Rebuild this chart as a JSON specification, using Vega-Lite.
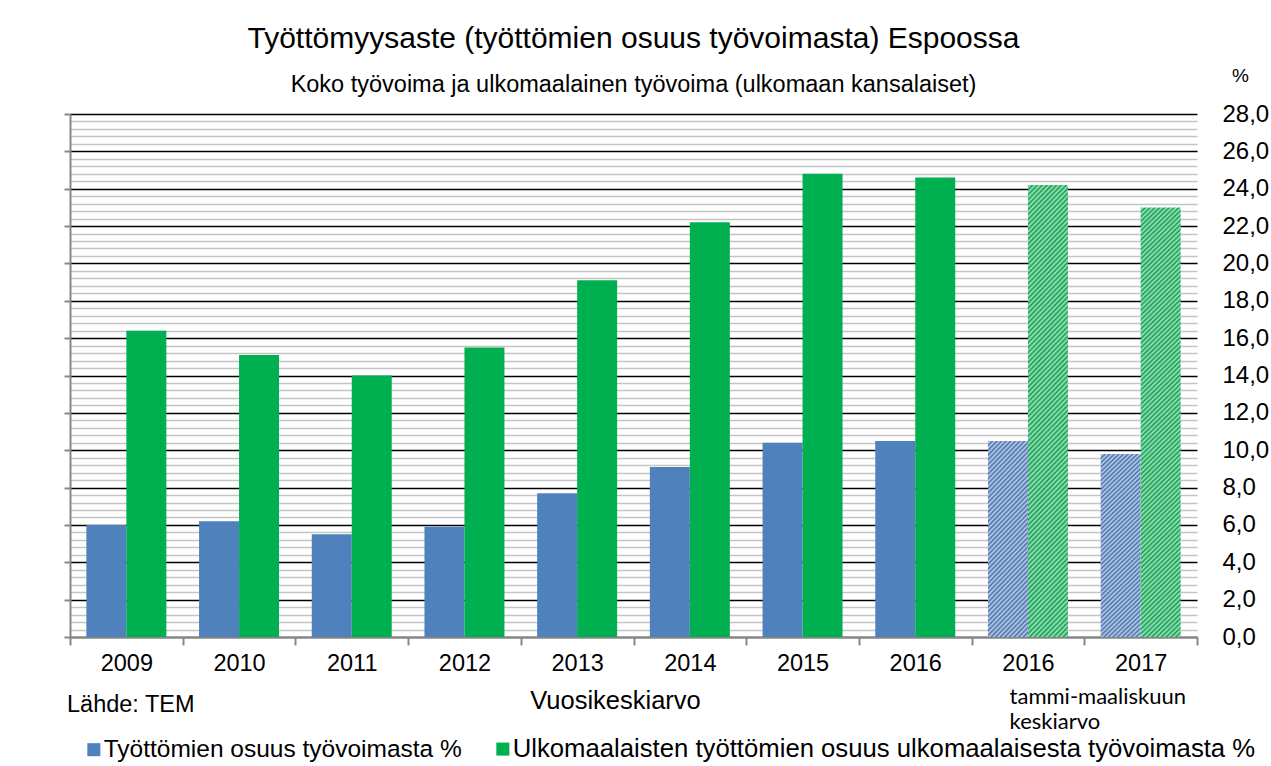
{
  "$schema": "https://vega.github.io/schema/vega-lite/v6.json",
  "width": 1127,
  "height": 523,
  "autosize": {"type": "none"},
  "padding": {"left": 70, "top": 114, "right": 74, "bottom": 129},
  "background": "white",
  "title": {
    "text": "Työttömyysaste (työttömien osuus työvoimasta) Espoossa",
    "subtitle": "Koko työvoima ja ulkomaalainen työvoima (ulkomaan kansalaiset)"
  },
  "datasets": {
    "bars": [
      {"cat": "2009", "kind": "vuosi", "series": "Työttömien osuus työvoimasta %", "value": 6.0},
      {"cat": "2009", "kind": "vuosi", "series": "Ulkomaalaisten työttömien osuus ulkomaalaisesta työvoimasta %", "value": 16.4},
      {"cat": "2010", "kind": "vuosi", "series": "Työttömien osuus työvoimasta %", "value": 6.2},
      {"cat": "2010", "kind": "vuosi", "series": "Ulkomaalaisten työttömien osuus ulkomaalaisesta työvoimasta %", "value": 15.1},
      {"cat": "2011", "kind": "vuosi", "series": "Työttömien osuus työvoimasta %", "value": 5.5},
      {"cat": "2011", "kind": "vuosi", "series": "Ulkomaalaisten työttömien osuus ulkomaalaisesta työvoimasta %", "value": 14.0},
      {"cat": "2012", "kind": "vuosi", "series": "Työttömien osuus työvoimasta %", "value": 5.9},
      {"cat": "2012", "kind": "vuosi", "series": "Ulkomaalaisten työttömien osuus ulkomaalaisesta työvoimasta %", "value": 15.5},
      {"cat": "2013", "kind": "vuosi", "series": "Työttömien osuus työvoimasta %", "value": 7.7},
      {"cat": "2013", "kind": "vuosi", "series": "Ulkomaalaisten työttömien osuus ulkomaalaisesta työvoimasta %", "value": 19.1},
      {"cat": "2014", "kind": "vuosi", "series": "Työttömien osuus työvoimasta %", "value": 9.1},
      {"cat": "2014", "kind": "vuosi", "series": "Ulkomaalaisten työttömien osuus ulkomaalaisesta työvoimasta %", "value": 22.2},
      {"cat": "2015", "kind": "vuosi", "series": "Työttömien osuus työvoimasta %", "value": 10.4},
      {"cat": "2015", "kind": "vuosi", "series": "Ulkomaalaisten työttömien osuus ulkomaalaisesta työvoimasta %", "value": 24.8},
      {"cat": "2016", "kind": "vuosi", "series": "Työttömien osuus työvoimasta %", "value": 10.5},
      {"cat": "2016", "kind": "vuosi", "series": "Ulkomaalaisten työttömien osuus ulkomaalaisesta työvoimasta %", "value": 24.6},
      {"cat": "2016q", "kind": "q", "series": "Työttömien osuus työvoimasta %", "value": 10.5},
      {"cat": "2016q", "kind": "q", "series": "Ulkomaalaisten työttömien osuus ulkomaalaisesta työvoimasta %", "value": 24.2},
      {"cat": "2017q", "kind": "q", "series": "Työttömien osuus työvoimasta %", "value": 9.8},
      {"cat": "2017q", "kind": "q", "series": "Ulkomaalaisten työttömien osuus ulkomaalaisesta työvoimasta %", "value": 23.0}
    ]
  },
  "layer": [
    {
      "data": {"name": "bars"},
      "transform": [{"filter": "datum.kind === 'vuosi'"}],
      "mark": {"type": "bar"},
      "encoding": {
        "x": {
          "field": "cat", "type": "nominal", "sort": null,
          "scale": {"domain": ["2009","2010","2011","2012","2013","2014","2015","2016","2016q","2017q"], "paddingInner": 0, "paddingOuter": 0},
          "axis": {
            "title": "Vuosikeskiarvo",
            "labelExpr": "isValid(datum.value) ? replace(datum.value, 'q', '') : ''",
            "labelAngle": 0, "labelOverlap": false,
            "labelFont": "Liberation Sans", "labelFontSize": 23.5, "labelColor": "#000000", "labelPadding": 6,
            "tickBand": "extent", "tickSize": 8, "tickWidth": 2, "tickColor": "#878787",
            "domainColor": "#878787", "domainWidth": 2, "grid": false,
            "titleFont": "Liberation Sans", "titleFontSize": 25.5, "titleFontWeight": "normal", "titleColor": "#000000",
            "titleX": 545, "titleY": 63, "titleAlign": "center", "titleBaseline": "middle"
          }
        },
        "xOffset": {
          "field": "series", "type": "nominal",
          "scale": {"domain": ["Työttömien osuus työvoimasta %", "Ulkomaalaisten työttömien osuus ulkomaalaisesta työvoimasta %"], "paddingInner": 0, "paddingOuter": 0.409}
        },
        "y": {
          "field": "value", "type": "quantitative",
          "scale": {"domain": [0, 28], "nice": false},
          "axis": {
            "orient": "left", "title": null, "labels": false,
            "values": [0,0.4,0.8,1.2,1.6,2,2.4,2.8,3.2,3.6,4,4.4,4.8,5.2,5.6,6,6.4,6.8,7.2,7.6,8,8.4,8.8,9.2,9.6,10,10.4,10.8,11.2,11.6,12,12.4,12.8,13.2,13.6,14,14.4,14.8,15.2,15.6,16,16.4,16.8,17.2,17.6,18,18.4,18.8,19.2,19.6,20,20.4,20.8,21.2,21.6,22,22.4,22.8,23.2,23.6,24,24.4,24.8,25.2,25.6,26,26.4,26.8,27.2,27.6,28],
            "domain": true, "domainColor": "#878787", "domainWidth": 2,
            "ticks": true, "tickSize": 6, "tickWidth": 2, "tickColor": "#878787",
            "tickOpacity": {"condition": {"test": "round(datum.value*10) % 20 === 0", "value": 1}, "value": 0},
            "grid": true,
            "gridColor": {"condition": {"test": "round(datum.value*10) % 20 === 0", "value": "#000000"}, "value": "#c4c4c4"},
            "gridWidth": {"condition": {"test": "round(datum.value*10) % 20 === 0", "value": 1.6}, "value": 1.4}
          }
        },
        "color": {
          "field": "series", "type": "nominal",
          "scale": {"domain": ["Työttömien osuus työvoimasta %", "Ulkomaalaisten työttömien osuus ulkomaalaisesta työvoimasta %"], "range": ["#4f81bd", "#00b050"]},
          "legend": {
            "orient": "none", "legendX": 11, "legendY": 622, "direction": "horizontal", "title": null,
            "symbolType": "square", "symbolSize": 170, "symbolStrokeWidth": 0, "symbolOpacity": 1,
            "labelFont": "Liberation Sans", "labelFontSize": 24.5, "labelColor": "#000000", "labelLimit": 1000,
            "columnPadding": 28, "labelOffset": -3, "padding": 0,
            "encode": {"labels": {"update": {"fontSize": {"signal": "datum.value === 'Työttömien osuus työvoimasta %' ? 24.5 : 25.7"}}}}
          }
        }
      }
    },
    {
      "data": {"name": "bars"},
      "transform": [{"filter": "datum.kind === 'q' && datum.series === 'Työttömien osuus työvoimasta %'"}],
      "mark": {
        "type": "bar",
        "fill": {
          "gradient": "linear", "x1": 0, "y1": 0, "x2": 0.244, "y2": 1.159,
          "stops": [{"offset":0,"color":"#4a6fab"},{"offset":0.01,"color":"#bcd1ea"},{"offset":0.02,"color":"#4a6fab"},{"offset":0.03,"color":"#bcd1ea"},{"offset":0.04,"color":"#4a6fab"},{"offset":0.05,"color":"#bcd1ea"},{"offset":0.06,"color":"#4a6fab"},{"offset":0.07,"color":"#bcd1ea"},{"offset":0.08,"color":"#4a6fab"},{"offset":0.09,"color":"#bcd1ea"},{"offset":0.1,"color":"#4a6fab"},{"offset":0.11,"color":"#bcd1ea"},{"offset":0.12,"color":"#4a6fab"},{"offset":0.13,"color":"#bcd1ea"},{"offset":0.14,"color":"#4a6fab"},{"offset":0.15,"color":"#bcd1ea"},{"offset":0.16,"color":"#4a6fab"},{"offset":0.17,"color":"#bcd1ea"},{"offset":0.18,"color":"#4a6fab"},{"offset":0.19,"color":"#bcd1ea"},{"offset":0.2,"color":"#4a6fab"},{"offset":0.21,"color":"#bcd1ea"},{"offset":0.22,"color":"#4a6fab"},{"offset":0.23,"color":"#bcd1ea"},{"offset":0.24,"color":"#4a6fab"},{"offset":0.25,"color":"#bcd1ea"},{"offset":0.26,"color":"#4a6fab"},{"offset":0.27,"color":"#bcd1ea"},{"offset":0.28,"color":"#4a6fab"},{"offset":0.29,"color":"#bcd1ea"},{"offset":0.3,"color":"#4a6fab"},{"offset":0.31,"color":"#bcd1ea"},{"offset":0.32,"color":"#4a6fab"},{"offset":0.33,"color":"#bcd1ea"},{"offset":0.34,"color":"#4a6fab"},{"offset":0.35,"color":"#bcd1ea"},{"offset":0.36,"color":"#4a6fab"},{"offset":0.37,"color":"#bcd1ea"},{"offset":0.38,"color":"#4a6fab"},{"offset":0.39,"color":"#bcd1ea"},{"offset":0.4,"color":"#4a6fab"},{"offset":0.41,"color":"#bcd1ea"},{"offset":0.42,"color":"#4a6fab"},{"offset":0.43,"color":"#bcd1ea"},{"offset":0.44,"color":"#4a6fab"},{"offset":0.45,"color":"#bcd1ea"},{"offset":0.46,"color":"#4a6fab"},{"offset":0.47,"color":"#bcd1ea"},{"offset":0.48,"color":"#4a6fab"},{"offset":0.49,"color":"#bcd1ea"},{"offset":0.5,"color":"#4a6fab"},{"offset":0.51,"color":"#bcd1ea"},{"offset":0.52,"color":"#4a6fab"},{"offset":0.53,"color":"#bcd1ea"},{"offset":0.54,"color":"#4a6fab"},{"offset":0.55,"color":"#bcd1ea"},{"offset":0.56,"color":"#4a6fab"},{"offset":0.57,"color":"#bcd1ea"},{"offset":0.58,"color":"#4a6fab"},{"offset":0.59,"color":"#bcd1ea"},{"offset":0.6,"color":"#4a6fab"},{"offset":0.61,"color":"#bcd1ea"},{"offset":0.62,"color":"#4a6fab"},{"offset":0.63,"color":"#bcd1ea"},{"offset":0.64,"color":"#4a6fab"},{"offset":0.65,"color":"#bcd1ea"},{"offset":0.66,"color":"#4a6fab"},{"offset":0.67,"color":"#bcd1ea"},{"offset":0.68,"color":"#4a6fab"},{"offset":0.69,"color":"#bcd1ea"},{"offset":0.7,"color":"#4a6fab"},{"offset":0.71,"color":"#bcd1ea"},{"offset":0.72,"color":"#4a6fab"},{"offset":0.73,"color":"#bcd1ea"},{"offset":0.74,"color":"#4a6fab"},{"offset":0.75,"color":"#bcd1ea"},{"offset":0.76,"color":"#4a6fab"},{"offset":0.77,"color":"#bcd1ea"},{"offset":0.78,"color":"#4a6fab"},{"offset":0.79,"color":"#bcd1ea"},{"offset":0.8,"color":"#4a6fab"},{"offset":0.81,"color":"#bcd1ea"},{"offset":0.82,"color":"#4a6fab"},{"offset":0.83,"color":"#bcd1ea"},{"offset":0.84,"color":"#4a6fab"},{"offset":0.85,"color":"#bcd1ea"},{"offset":0.86,"color":"#4a6fab"},{"offset":0.87,"color":"#bcd1ea"},{"offset":0.88,"color":"#4a6fab"},{"offset":0.89,"color":"#bcd1ea"},{"offset":0.9,"color":"#4a6fab"},{"offset":0.91,"color":"#bcd1ea"},{"offset":0.92,"color":"#4a6fab"},{"offset":0.93,"color":"#bcd1ea"},{"offset":0.94,"color":"#4a6fab"},{"offset":0.95,"color":"#bcd1ea"},{"offset":0.96,"color":"#4a6fab"},{"offset":0.97,"color":"#bcd1ea"},{"offset":0.98,"color":"#4a6fab"},{"offset":0.99,"color":"#bcd1ea"},{"offset":1,"color":"#4a6fab"}]
        }
      },
      "encoding": {
        "x": {"field": "cat", "type": "nominal", "sort": null, "scale": {"domain": ["2009","2010","2011","2012","2013","2014","2015","2016","2016q","2017q"], "paddingInner": 0, "paddingOuter": 0}},
        "xOffset": {"field": "series", "type": "nominal", "scale": {"domain": ["Työttömien osuus työvoimasta %", "Ulkomaalaisten työttömien osuus ulkomaalaisesta työvoimasta %"], "paddingInner": 0, "paddingOuter": 0.409}},
        "y": {
          "field": "value", "type": "quantitative",
          "scale": {"domain": [0, 28], "nice": false},
          "axis": {
            "orient": "right", "values": [0,2,4,6,8,10,12,14,16,18,20,22,24,26,28],
            "labelExpr": "replace(format(datum.value, '.1f'), '.', ',')",
            "grid": false, "domain": false, "ticks": false, "tickSize": 0, "labelPadding": 25,
            "labelFont": "Liberation Sans", "labelFontSize": 24, "labelColor": "#000000",
            "title": "%", "titleAngle": 0, "titleX": 43, "titleY": -39, "titleAlign": "center", "titleBaseline": "middle",
            "titleFont": "Liberation Sans", "titleFontSize": 19, "titleFontWeight": "normal", "titleColor": "#000000"
          }
        }
      }
    },
    {
      "data": {"name": "bars"},
      "transform": [{"filter": "datum.kind === 'q' && datum.series !== 'Työttömien osuus työvoimasta %'"}],
      "mark": {
        "type": "bar",
        "fill": {
          "gradient": "linear", "x1": 0, "y1": 0, "x2": 0.0984, "y2": 1.082,
          "stops": [{"offset":0,"color":"#0f9e50"},{"offset":0.005,"color":"#a3e4bd"},{"offset":0.01,"color":"#0f9e50"},{"offset":0.015,"color":"#a3e4bd"},{"offset":0.02,"color":"#0f9e50"},{"offset":0.025,"color":"#a3e4bd"},{"offset":0.03,"color":"#0f9e50"},{"offset":0.035,"color":"#a3e4bd"},{"offset":0.04,"color":"#0f9e50"},{"offset":0.045,"color":"#a3e4bd"},{"offset":0.05,"color":"#0f9e50"},{"offset":0.055,"color":"#a3e4bd"},{"offset":0.06,"color":"#0f9e50"},{"offset":0.065,"color":"#a3e4bd"},{"offset":0.07,"color":"#0f9e50"},{"offset":0.075,"color":"#a3e4bd"},{"offset":0.08,"color":"#0f9e50"},{"offset":0.085,"color":"#a3e4bd"},{"offset":0.09,"color":"#0f9e50"},{"offset":0.095,"color":"#a3e4bd"},{"offset":0.1,"color":"#0f9e50"},{"offset":0.105,"color":"#a3e4bd"},{"offset":0.11,"color":"#0f9e50"},{"offset":0.115,"color":"#a3e4bd"},{"offset":0.12,"color":"#0f9e50"},{"offset":0.125,"color":"#a3e4bd"},{"offset":0.13,"color":"#0f9e50"},{"offset":0.135,"color":"#a3e4bd"},{"offset":0.14,"color":"#0f9e50"},{"offset":0.145,"color":"#a3e4bd"},{"offset":0.15,"color":"#0f9e50"},{"offset":0.155,"color":"#a3e4bd"},{"offset":0.16,"color":"#0f9e50"},{"offset":0.165,"color":"#a3e4bd"},{"offset":0.17,"color":"#0f9e50"},{"offset":0.175,"color":"#a3e4bd"},{"offset":0.18,"color":"#0f9e50"},{"offset":0.185,"color":"#a3e4bd"},{"offset":0.19,"color":"#0f9e50"},{"offset":0.195,"color":"#a3e4bd"},{"offset":0.2,"color":"#0f9e50"},{"offset":0.205,"color":"#a3e4bd"},{"offset":0.21,"color":"#0f9e50"},{"offset":0.215,"color":"#a3e4bd"},{"offset":0.22,"color":"#0f9e50"},{"offset":0.225,"color":"#a3e4bd"},{"offset":0.23,"color":"#0f9e50"},{"offset":0.235,"color":"#a3e4bd"},{"offset":0.24,"color":"#0f9e50"},{"offset":0.245,"color":"#a3e4bd"},{"offset":0.25,"color":"#0f9e50"},{"offset":0.255,"color":"#a3e4bd"},{"offset":0.26,"color":"#0f9e50"},{"offset":0.265,"color":"#a3e4bd"},{"offset":0.27,"color":"#0f9e50"},{"offset":0.275,"color":"#a3e4bd"},{"offset":0.28,"color":"#0f9e50"},{"offset":0.285,"color":"#a3e4bd"},{"offset":0.29,"color":"#0f9e50"},{"offset":0.295,"color":"#a3e4bd"},{"offset":0.3,"color":"#0f9e50"},{"offset":0.305,"color":"#a3e4bd"},{"offset":0.31,"color":"#0f9e50"},{"offset":0.315,"color":"#a3e4bd"},{"offset":0.32,"color":"#0f9e50"},{"offset":0.325,"color":"#a3e4bd"},{"offset":0.33,"color":"#0f9e50"},{"offset":0.335,"color":"#a3e4bd"},{"offset":0.34,"color":"#0f9e50"},{"offset":0.345,"color":"#a3e4bd"},{"offset":0.35,"color":"#0f9e50"},{"offset":0.355,"color":"#a3e4bd"},{"offset":0.36,"color":"#0f9e50"},{"offset":0.365,"color":"#a3e4bd"},{"offset":0.37,"color":"#0f9e50"},{"offset":0.375,"color":"#a3e4bd"},{"offset":0.38,"color":"#0f9e50"},{"offset":0.385,"color":"#a3e4bd"},{"offset":0.39,"color":"#0f9e50"},{"offset":0.395,"color":"#a3e4bd"},{"offset":0.4,"color":"#0f9e50"},{"offset":0.405,"color":"#a3e4bd"},{"offset":0.41,"color":"#0f9e50"},{"offset":0.415,"color":"#a3e4bd"},{"offset":0.42,"color":"#0f9e50"},{"offset":0.425,"color":"#a3e4bd"},{"offset":0.43,"color":"#0f9e50"},{"offset":0.435,"color":"#a3e4bd"},{"offset":0.44,"color":"#0f9e50"},{"offset":0.445,"color":"#a3e4bd"},{"offset":0.45,"color":"#0f9e50"},{"offset":0.455,"color":"#a3e4bd"},{"offset":0.46,"color":"#0f9e50"},{"offset":0.465,"color":"#a3e4bd"},{"offset":0.47,"color":"#0f9e50"},{"offset":0.475,"color":"#a3e4bd"},{"offset":0.48,"color":"#0f9e50"},{"offset":0.485,"color":"#a3e4bd"},{"offset":0.49,"color":"#0f9e50"},{"offset":0.495,"color":"#a3e4bd"},{"offset":0.5,"color":"#0f9e50"},{"offset":0.505,"color":"#a3e4bd"},{"offset":0.51,"color":"#0f9e50"},{"offset":0.515,"color":"#a3e4bd"},{"offset":0.52,"color":"#0f9e50"},{"offset":0.525,"color":"#a3e4bd"},{"offset":0.53,"color":"#0f9e50"},{"offset":0.535,"color":"#a3e4bd"},{"offset":0.54,"color":"#0f9e50"},{"offset":0.545,"color":"#a3e4bd"},{"offset":0.55,"color":"#0f9e50"},{"offset":0.555,"color":"#a3e4bd"},{"offset":0.56,"color":"#0f9e50"},{"offset":0.565,"color":"#a3e4bd"},{"offset":0.57,"color":"#0f9e50"},{"offset":0.575,"color":"#a3e4bd"},{"offset":0.58,"color":"#0f9e50"},{"offset":0.585,"color":"#a3e4bd"},{"offset":0.59,"color":"#0f9e50"},{"offset":0.595,"color":"#a3e4bd"},{"offset":0.6,"color":"#0f9e50"},{"offset":0.605,"color":"#a3e4bd"},{"offset":0.61,"color":"#0f9e50"},{"offset":0.615,"color":"#a3e4bd"},{"offset":0.62,"color":"#0f9e50"},{"offset":0.625,"color":"#a3e4bd"},{"offset":0.63,"color":"#0f9e50"},{"offset":0.635,"color":"#a3e4bd"},{"offset":0.64,"color":"#0f9e50"},{"offset":0.645,"color":"#a3e4bd"},{"offset":0.65,"color":"#0f9e50"},{"offset":0.655,"color":"#a3e4bd"},{"offset":0.66,"color":"#0f9e50"},{"offset":0.665,"color":"#a3e4bd"},{"offset":0.67,"color":"#0f9e50"},{"offset":0.675,"color":"#a3e4bd"},{"offset":0.68,"color":"#0f9e50"},{"offset":0.685,"color":"#a3e4bd"},{"offset":0.69,"color":"#0f9e50"},{"offset":0.695,"color":"#a3e4bd"},{"offset":0.7,"color":"#0f9e50"},{"offset":0.705,"color":"#a3e4bd"},{"offset":0.71,"color":"#0f9e50"},{"offset":0.715,"color":"#a3e4bd"},{"offset":0.72,"color":"#0f9e50"},{"offset":0.725,"color":"#a3e4bd"},{"offset":0.73,"color":"#0f9e50"},{"offset":0.735,"color":"#a3e4bd"},{"offset":0.74,"color":"#0f9e50"},{"offset":0.745,"color":"#a3e4bd"},{"offset":0.75,"color":"#0f9e50"},{"offset":0.755,"color":"#a3e4bd"},{"offset":0.76,"color":"#0f9e50"},{"offset":0.765,"color":"#a3e4bd"},{"offset":0.77,"color":"#0f9e50"},{"offset":0.775,"color":"#a3e4bd"},{"offset":0.78,"color":"#0f9e50"},{"offset":0.785,"color":"#a3e4bd"},{"offset":0.79,"color":"#0f9e50"},{"offset":0.795,"color":"#a3e4bd"},{"offset":0.8,"color":"#0f9e50"},{"offset":0.805,"color":"#a3e4bd"},{"offset":0.81,"color":"#0f9e50"},{"offset":0.815,"color":"#a3e4bd"},{"offset":0.82,"color":"#0f9e50"},{"offset":0.825,"color":"#a3e4bd"},{"offset":0.83,"color":"#0f9e50"},{"offset":0.835,"color":"#a3e4bd"},{"offset":0.84,"color":"#0f9e50"},{"offset":0.845,"color":"#a3e4bd"},{"offset":0.85,"color":"#0f9e50"},{"offset":0.855,"color":"#a3e4bd"},{"offset":0.86,"color":"#0f9e50"},{"offset":0.865,"color":"#a3e4bd"},{"offset":0.87,"color":"#0f9e50"},{"offset":0.875,"color":"#a3e4bd"},{"offset":0.88,"color":"#0f9e50"},{"offset":0.885,"color":"#a3e4bd"},{"offset":0.89,"color":"#0f9e50"},{"offset":0.895,"color":"#a3e4bd"},{"offset":0.9,"color":"#0f9e50"},{"offset":0.905,"color":"#a3e4bd"},{"offset":0.91,"color":"#0f9e50"},{"offset":0.915,"color":"#a3e4bd"},{"offset":0.92,"color":"#0f9e50"},{"offset":0.925,"color":"#a3e4bd"},{"offset":0.93,"color":"#0f9e50"},{"offset":0.935,"color":"#a3e4bd"},{"offset":0.94,"color":"#0f9e50"},{"offset":0.945,"color":"#a3e4bd"},{"offset":0.95,"color":"#0f9e50"},{"offset":0.955,"color":"#a3e4bd"},{"offset":0.96,"color":"#0f9e50"},{"offset":0.965,"color":"#a3e4bd"},{"offset":0.97,"color":"#0f9e50"},{"offset":0.975,"color":"#a3e4bd"},{"offset":0.98,"color":"#0f9e50"},{"offset":0.985,"color":"#a3e4bd"},{"offset":0.99,"color":"#0f9e50"},{"offset":0.995,"color":"#a3e4bd"},{"offset":1,"color":"#0f9e50"}]
        }
      },
      "encoding": {
        "x": {"field": "cat", "type": "nominal", "sort": null, "scale": {"domain": ["2009","2010","2011","2012","2013","2014","2015","2016","2016q","2017q"], "paddingInner": 0, "paddingOuter": 0}},
        "xOffset": {"field": "series", "type": "nominal", "scale": {"domain": ["Työttömien osuus työvoimasta %", "Ulkomaalaisten työttömien osuus ulkomaalaisesta työvoimasta %"], "paddingInner": 0, "paddingOuter": 0.409}},
        "y": {"field": "value", "type": "quantitative", "scale": {"domain": [0, 28], "nice": false}, "axis": null}
      }
    },
    {
      "data": {"values": [{"note": "Lähde: TEM", "cat": "2009", "pos": -3.64}]},
      "mark": {"type": "text", "align": "left", "baseline": "middle", "dx": -3, "font": "Liberation Sans", "fontSize": 23.5, "color": "#000000"},
      "encoding": {
        "x": {"field": "cat", "type": "nominal", "sort": null, "bandPosition": 0, "scale": {"domain": ["2009","2010","2011","2012","2013","2014","2015","2016","2016q","2017q"], "paddingInner": 0, "paddingOuter": 0}},
        "y": {"field": "pos", "type": "quantitative", "scale": {"domain": [0, 28], "nice": false}, "axis": null},
        "text": {"field": "note"}
      }
    },
    {
      "data": {"values": [{"note": "tammi-maaliskuun\nkeskiarvo", "cat": "2016q", "pos": -3.21}]},
      "mark": {"type": "text", "align": "left", "baseline": "middle", "dx": 38, "lineBreak": "\n", "lineHeight": 25, "font": "Lato", "fontSize": 22, "color": "#000000"},
      "encoding": {
        "x": {"field": "cat", "type": "nominal", "sort": null, "bandPosition": 0, "scale": {"domain": ["2009","2010","2011","2012","2013","2014","2015","2016","2016q","2017q"], "paddingInner": 0, "paddingOuter": 0}},
        "y": {"field": "pos", "type": "quantitative", "scale": {"domain": [0, 28], "nice": false}, "axis": null},
        "text": {"field": "note"}
      }
    }
  ],
  "resolve": {"axis": {"y": "independent"}},
  "config": {
    "view": {"stroke": null},
    "font": "Liberation Sans",
    "title": {
      "font": "Liberation Sans", "fontSize": 30, "fontWeight": "normal", "color": "#000000",
      "subtitleFont": "Liberation Sans", "subtitleFontSize": 23.5, "subtitleColor": "#000000",
      "subtitlePadding": 19, "offset": -30, "anchor": "middle"
    }
  }
}
